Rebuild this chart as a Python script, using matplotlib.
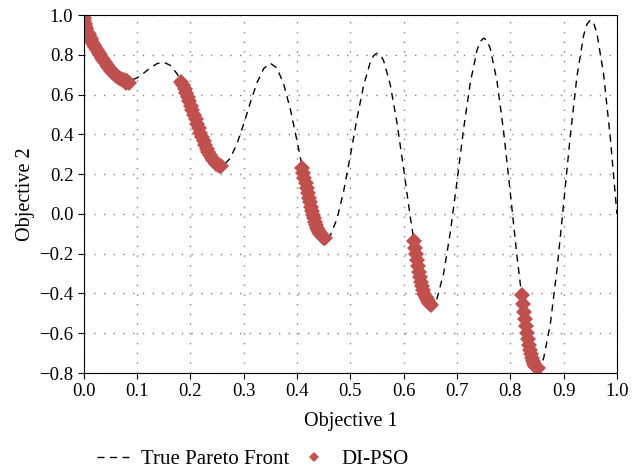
import matplotlib
matplotlib.use("Agg")
import matplotlib.pyplot as plt

# true Pareto front
front_x = [
    0.0, 0.0125, 0.025, 0.0375, 0.05, 0.0625, 0.075, 0.0875, 0.1, 0.1125,
    0.125, 0.1375, 0.15, 0.1625, 0.175, 0.1875, 0.2, 0.2125, 0.225, 0.2375,
    0.25, 0.2625, 0.275, 0.2875, 0.3, 0.3125, 0.325, 0.3375, 0.35, 0.3625,
    0.375, 0.3875, 0.4, 0.4125, 0.425, 0.4375, 0.45, 0.4625, 0.475, 0.4875,
    0.5, 0.5125, 0.525, 0.5375, 0.54375, 0.55, 0.55625, 0.5625, 0.575, 0.5875,
    0.6, 0.6125, 0.625, 0.6375, 0.64375, 0.65, 0.65625, 0.6625, 0.675, 0.6875,
    0.7, 0.7125, 0.725, 0.7375, 0.74375, 0.75, 0.75625, 0.7625, 0.775, 0.7875,
    0.8, 0.8125, 0.825, 0.8375, 0.84375, 0.85, 0.85625, 0.8625, 0.875, 0.8875,
    0.9, 0.9125, 0.925, 0.9375, 0.94375, 0.95, 0.95625, 0.9625, 0.975, 0.9875,
    1.0,
]
front_y = [
    1.0, 0.883, 0.824, 0.772, 0.726, 0.692, 0.673, 0.671, 0.684, 0.708,
    0.735, 0.756, 0.763, 0.747, 0.705, 0.639, 0.553, 0.458, 0.367, 0.293,
    0.250, 0.245, 0.281, 0.354, 0.452, 0.561, 0.660, 0.731, 0.758, 0.733,
    0.653, 0.526, 0.368, 0.200, 0.048, -0.066, -0.121, -0.107, -0.025, 0.115,
    0.293, 0.480, 0.647, 0.764, 0.796, 0.808, 0.800, 0.770, 0.648, 0.458,
    0.225, -0.017, -0.233, -0.387, -0.434, -0.456, -0.454, -0.426, -0.299, -0.092,
    0.163, 0.429, 0.661, 0.823, 0.867, 0.884, 0.872, 0.831, 0.668, 0.414,
    0.106, -0.212, -0.492, -0.689, -0.746, -0.772, -0.765, -0.726, -0.554, -0.282,
    0.051, 0.394, 0.692, 0.898, 0.954, 0.975, 0.960, 0.908, 0.702, 0.384,
    0.0,
]

# DI-PSO solutions, five clusters
pso_x = [
    0.000, 0.000, 0.001, 0.001, 0.002, 0.003, 0.004, 0.005, 0.007, 0.009,
    0.011, 0.013, 0.016, 0.019, 0.022, 0.025, 0.028, 0.031, 0.034, 0.037,
    0.040, 0.043, 0.046, 0.049, 0.052, 0.055, 0.058, 0.061, 0.064, 0.067,
    0.070, 0.073, 0.076, 0.079, 0.080, 0.082, 0.084,
    0.183, 0.186, 0.189, 0.192, 0.195, 0.198, 0.201, 0.204, 0.207, 0.210,
    0.213, 0.216, 0.219, 0.222, 0.225, 0.228, 0.231, 0.234, 0.237, 0.240,
    0.243, 0.246, 0.249, 0.252, 0.255, 0.257,
    0.410, 0.412, 0.414, 0.416, 0.418, 0.420, 0.422, 0.424, 0.426, 0.428,
    0.430, 0.432, 0.434, 0.436, 0.438, 0.440, 0.442, 0.444, 0.446, 0.448,
    0.450, 0.452,
    0.619, 0.621, 0.623, 0.625, 0.627, 0.629, 0.631, 0.633, 0.635, 0.637,
    0.639, 0.641, 0.643, 0.645, 0.647, 0.649, 0.651,
    0.821, 0.823, 0.825, 0.827, 0.829, 0.831, 0.833, 0.835, 0.837, 0.839,
    0.841, 0.843, 0.845, 0.847, 0.849, 0.851,
]
pso_y = [
    1.000, 0.985, 0.968, 0.960, 0.955, 0.945, 0.936, 0.928, 0.915, 0.903,
    0.891, 0.881, 0.866, 0.852, 0.838, 0.824, 0.811, 0.798, 0.786, 0.774,
    0.762, 0.751, 0.740, 0.730, 0.720, 0.711, 0.703, 0.696, 0.689, 0.683,
    0.679, 0.675, 0.672, 0.670, 0.660, 0.670, 0.660,
    0.665, 0.648, 0.629, 0.610, 0.589, 0.567, 0.545, 0.523, 0.500, 0.477,
    0.454, 0.431, 0.409, 0.387, 0.367, 0.347, 0.328, 0.311, 0.296, 0.282,
    0.270, 0.260, 0.252, 0.246, 0.243, 0.242,
    0.233, 0.207, 0.180, 0.155, 0.130, 0.105, 0.082, 0.058, 0.037, 0.016,
    -0.004, -0.022, -0.039, -0.055, -0.069, -0.082, -0.093, -0.102, -0.110, -0.116,
    -0.121, -0.123,
    -0.135, -0.169, -0.201, -0.233, -0.262, -0.290, -0.316, -0.341, -0.363, -0.383,
    -0.401, -0.416, -0.430, -0.440, -0.448, -0.454, -0.458,
    -0.409, -0.451, -0.492, -0.530, -0.565, -0.599, -0.630, -0.658, -0.683, -0.706,
    -0.725, -0.741, -0.754, -0.763, -0.770, -0.773,
]

x_ticks = [0.0, 0.1, 0.2, 0.3, 0.4, 0.5, 0.6, 0.7, 0.8, 0.9, 1.0]
y_ticks = [-0.8, -0.6, -0.4, -0.2, 0.0, 0.2, 0.4, 0.6, 0.8, 1.0]

plt.rcParams["font.family"] = ["Liberation Serif", "DejaVu Serif"]

fig = plt.figure(figsize=(6.44, 4.71), dpi=100)
ax = fig.add_axes([0.130, 0.208, 0.828, 0.760])

line, = ax.plot(front_x, front_y, color="black", linestyle=(0, (5, 4)),
                linewidth=1.0, label="True Pareto Front")
pts, = ax.plot(pso_x, pso_y, linestyle="none", marker="D", markersize=8,
               color="#c0504d", markeredgewidth=0, label="DI-PSO")

ax.set_xlim(0, 1)
ax.set_ylim(-0.8, 1.0)
ax.set_xticks(x_ticks)
ax.set_yticks(y_ticks)
ax.set_xticklabels([f"{t:.1f}" for t in x_ticks])
ax.set_yticklabels([f"{t:.1f}".replace("-", "\u2212") for t in y_ticks])
ax.tick_params(labelsize=13.5, direction="out", length=4, width=0.8)
ax.grid(True, color="#808080", linestyle=(0, (1, 6)), linewidth=1.0)
for sp in ax.spines.values():
    sp.set_linewidth(0.8)

ax.set_xlabel("Objective 1", fontsize=14.5, labelpad=8)
ax.set_ylabel("Objective 2", fontsize=14.5, labelpad=3)

leg = fig.legend(handles=[line, pts], loc="center left",
                 bbox_to_anchor=(0.121, 0.025), ncol=2, frameon=False,
                 fontsize=15, handlelength=1.7, handletextpad=0.45,
                 columnspacing=0.3, markerscale=0.65)

fig.savefig("out.png", dpi=100)
